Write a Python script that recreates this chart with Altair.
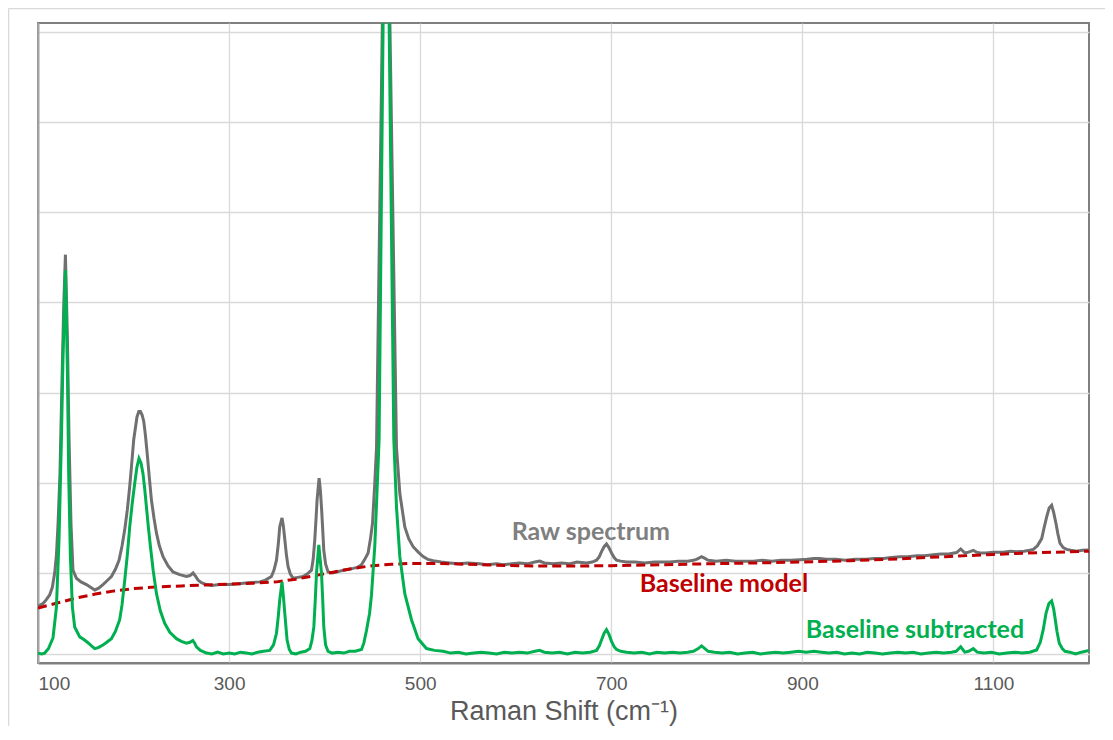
import altair as alt
import pandas as pd

# ---------------- data ----------------
# Raw spectrum (grey)
raw_x = [100, 105.2, 108.5, 112.2, 115, 117.5, 119.3, 121, 123, 124.5, 126.9, 128.7, 130.8, 132.5, 134.5,
         136.6, 140.2, 145, 150.7, 155, 159.4, 163.5, 168, 172, 176.8, 181, 184.8, 188, 190.8, 193.5, 196,
         198, 200.2, 203.6, 205.5, 207.2, 209, 210.7, 212.5, 214.2, 216.5, 218.7, 221.5, 224, 227, 230.9,
         236, 241.3, 248.3, 255.4, 259, 262.3, 265, 267.5, 271, 276.3, 282, 290, 300.7, 310, 320, 332.1,
         338, 344.3, 347, 349.6, 351.5, 353, 355.4, 356.8, 358.3, 360, 361.7, 364, 367, 372, 377.4, 382,
         386.2, 388, 389.7, 391, 392.1, 394.2, 395.5, 396.7, 398, 399.1, 401, 403.6, 408, 412.4, 420,
         429.8, 434, 438.6, 442, 445.5, 448, 450.1, 452.5, 454.3, 460.4, 464.3, 468.3, 475.2, 478.7,
         483.9, 488, 492.6, 498, 503.1, 508, 513.5, 522, 531, 540, 550, 562, 570, 580, 587, 596, 604, 612,
         620, 625, 630, 639, 648, 656, 664, 674, 680, 684.6, 687.5, 689.8, 692.5, 695, 697.5, 700.3, 703,
         705.5, 710, 716, 725, 735, 745, 753, 761, 770, 780, 786, 789.3, 794.5, 798, 801.4, 810, 820, 830,
         840, 848.5, 858, 868, 878, 888, 897.4, 905, 912, 918, 925, 935, 945, 955, 967, 975, 985, 993,
         1002, 1010, 1020, 1028, 1037, 1045, 1053, 1061.5, 1065.7, 1070.2, 1074, 1078.9, 1082, 1086, 1092,
         1100, 1110, 1118, 1124.3, 1132, 1138, 1141.7, 1146, 1150.5, 1153, 1155.7, 1158.3, 1160.9, 1163,
         1165.4, 1167.5, 1169.6, 1173, 1176.6, 1181, 1187, 1193, 1199.2]
raw_y = [0.53, 0.56, 0.60, 0.655, 0.74, 0.90, 1.10, 1.45, 2.0, 2.74, 3.85, 4.43, 3.49, 2.38, 1.45,
         0.93, 0.84, 0.80, 0.77, 0.74, 0.71, 0.73, 0.77, 0.81, 0.86, 0.94, 1.04, 1.20, 1.38, 1.60, 1.86,
         2.10, 2.38, 2.63, 2.69, 2.69, 2.65, 2.58, 2.42, 2.23, 1.96, 1.71, 1.50, 1.34, 1.20, 1.08,
         0.98, 0.91, 0.88, 0.86, 0.87, 0.90, 0.86, 0.82, 0.79, 0.77, 0.76, 0.77, 0.77, 0.78, 0.79, 0.80,
         0.82, 0.86, 0.93, 1.04, 1.22, 1.41, 1.51, 1.42, 1.27, 1.10, 0.97, 0.89, 0.84, 0.85, 0.86, 0.89,
         0.93, 1.05, 1.27, 1.50, 1.71, 1.95, 1.82, 1.63, 1.38, 1.15, 1.00, 0.91, 0.90, 0.91, 0.93,
         0.95, 0.96, 0.99, 1.05, 1.12, 1.28, 1.45, 1.90, 2.29, 7.0, 10.5, 7.0, 2.29, 1.78,
         1.41, 1.28, 1.19, 1.13, 1.08, 1.05, 1.035, 1.02, 1.01, 1.00, 1.01, 1.00, 0.99, 1.00, 0.99, 1.00, 1.01, 1.00,
         1.02, 1.03, 1.01, 1.00, 1.01, 1.00, 1.02, 1.01, 1.02, 1.04, 1.08, 1.135, 1.19, 1.22, 1.18, 1.12, 1.07,
         1.04, 1.03, 1.02, 1.02, 1.01, 1.02, 1.02, 1.02, 1.03, 1.03, 1.04, 1.05, 1.08, 1.06, 1.04, 1.03, 1.04, 1.03,
         1.03, 1.03, 1.04, 1.03, 1.04, 1.04, 1.045, 1.05, 1.06, 1.06, 1.05, 1.05, 1.04, 1.05, 1.05, 1.06, 1.06, 1.07,
         1.08, 1.08, 1.09, 1.09, 1.10, 1.11, 1.11, 1.125, 1.165, 1.12, 1.13, 1.15, 1.13, 1.12, 1.12,
         1.13, 1.13, 1.14, 1.135, 1.14, 1.15, 1.16, 1.20, 1.28, 1.40, 1.52, 1.62, 1.65, 1.57,
         1.45, 1.33, 1.23, 1.18, 1.16, 1.15, 1.14, 1.15, 1.155]

# Baseline model (red dashed)
base_x = [100, 120, 140, 160, 180, 200, 225, 250, 275, 300, 325, 350, 370, 390, 410, 430, 450, 470, 490,
          520, 550, 580, 620, 660, 700, 750, 800, 850, 900, 950, 1000, 1050, 1100, 1150, 1200]
base_y = [0.51, 0.565, 0.62, 0.665, 0.70, 0.725, 0.745, 0.755, 0.765, 0.775, 0.785, 0.80, 0.83, 0.87, 0.91,
          0.95, 0.98, 0.995, 1.005, 1.005, 0.995, 0.985, 0.975, 0.975, 0.98, 0.99, 1.00, 1.01, 1.02, 1.035,
          1.055, 1.08, 1.105, 1.125, 1.14]

# Baseline subtracted (green)
sub_x = [100, 104, 107, 111, 115.7, 119.3, 122, 124.5, 126.2, 128.7, 130.8, 132.1, 133.9, 136, 138.4,
         143.7, 148, 152.3, 156, 159.4, 163, 168, 172, 176.8, 181, 185.5, 188, 190.8, 193.5, 196, 198.5,
         201.2, 203.5, 205.7, 207.8, 209.9, 211.7, 213.5, 215.6, 217.7, 220.5, 224, 228, 232.6, 238,
         244.9, 250, 255.4, 259, 262, 264, 265.8, 270, 276.3, 282, 288, 294, 300, 306, 312, 318, 324, 330,
         336, 342.6, 346.5, 349.6, 351.5, 353, 355.4, 357, 358.3, 360.7, 363, 365.3, 370, 375, 380, 384.5,
         386.7, 388.7, 390.2, 391.5, 393.9, 395.3, 396.7, 398, 399.1, 401, 403.6, 408, 414, 420, 426, 432,
         438.6, 441, 443.8, 447, 449, 452.5, 454.9, 457, 461.2, 464.3, 467.5, 472.4, 475.2, 478.7, 483.9,
         490.9, 497.8, 506.6, 515, 524, 532, 540, 548, 556, 564, 572, 580, 588, 596, 604, 612, 620, 625,
         630, 638, 646, 654, 662, 670, 678, 684.6, 687.5, 689.8, 692.5, 695, 697.5, 700.3, 703, 705.5, 710,
         716, 724, 732, 740, 748, 756, 764, 772, 780, 786, 791, 794.5, 798, 801.4, 808, 816, 824, 832, 840,
         848, 856, 864, 872, 880, 888, 896, 904, 912, 920, 928, 936, 944, 952, 960, 968, 976, 984, 992,
         1000, 1008, 1016, 1024, 1032, 1040, 1048, 1056, 1061, 1065.7, 1070, 1074, 1078.9, 1083, 1090,
         1098, 1106, 1114, 1122, 1130, 1138, 1145.2, 1149, 1152.1, 1155, 1158, 1160.9, 1163, 1164.3,
         1166.5, 1168.9, 1172, 1174.9, 1180, 1186, 1192, 1200]
sub_y = [0.01, 0.0, 0.01, 0.06, 0.18, 0.52, 1.27, 2.38, 3.30, 4.26, 3.12, 2.0, 1.08, 0.52, 0.30,
         0.19, 0.16, 0.125, 0.09, 0.06, 0.07, 0.10, 0.13, 0.17, 0.25, 0.38, 0.55, 0.82, 1.10, 1.41, 1.66,
         1.89, 2.07, 2.17, 2.12, 2.0, 1.83, 1.63, 1.40, 1.19, 0.93, 0.67, 0.48, 0.34, 0.24,
         0.17, 0.14, 0.12, 0.13, 0.15, 0.12, 0.08, 0.04, 0.01, 0.0, 0.02, 0.0, 0.01, 0.0, 0.02, 0.01, 0.0, 0.02,
         0.03, 0.04, 0.10, 0.23, 0.42, 0.60, 0.80, 0.62, 0.45, 0.155, 0.05, 0.01, 0.0, 0.02, 0.03, 0.06,
         0.15, 0.30, 0.60, 0.90, 1.21, 1.05, 0.90, 0.60, 0.30, 0.10, 0.03, 0.01, 0.02, 0.01, 0.03, 0.03,
         0.05, 0.12, 0.26, 0.45, 0.65, 1.20, 1.82, 2.38, 7.0, 10.5, 7.0, 2.38, 1.63, 1.08, 0.67,
         0.38, 0.17, 0.06, 0.04, 0.03, 0.01, 0.02, 0.0, 0.01, 0.02, 0.01, 0.0, 0.02, 0.01, 0.02, 0.01, 0.03, 0.04,
         0.02, 0.01, 0.02, 0.0, 0.02, 0.01, 0.02, 0.04, 0.09, 0.155, 0.23, 0.27, 0.22, 0.14, 0.08, 0.05, 0.03,
         0.02, 0.01, 0.02, 0.0, 0.02, 0.01, 0.02, 0.01, 0.02, 0.03, 0.06, 0.09, 0.06, 0.03, 0.02, 0.01, 0.02, 0.0, 0.01,
         0.02, 0.0, 0.01, 0.02, 0.01, 0.02, 0.03, 0.02, 0.03, 0.02, 0.01, 0.02, 0.0, 0.01, 0.0, 0.02, 0.01, 0.0, 0.01,
         0.02, 0.01, 0.02, 0.0, 0.01, 0.02, 0.01, 0.02, 0.03, 0.08, 0.02, 0.03, 0.06, 0.02, 0.01,
         0.02, 0.0, 0.01, 0.02, 0.01, 0.02, 0.045, 0.13, 0.27, 0.45, 0.56, 0.59, 0.50, 0.41,
         0.25, 0.12, 0.06, 0.03, 0.02, 0.0, 0.02, 0.04]

# Annotations
ann_text = ["Raw spectrum", "Baseline model", "Baseline subtracted"]
ann_x = [678.6, 817.9, 1017.8]
ann_y = [1.265, 0.69, 0.174]
ann_color = ["#7f7f7f", "#c00000", "#00b050"]

x_ticks = [100, 300, 500, 700, 900, 1100]
y_grid = [0, 0.9, 1.9, 2.9, 3.9, 4.9, 5.9, 6.9]

W, H = 1051, 640
PAD = {"left": 30, "top": 15, "right": 16, "bottom": 63}

raw_df = pd.DataFrame({"x": raw_x, "y": raw_y})
base_df = pd.DataFrame({"x": base_x, "y": base_y})
sub_df = pd.DataFrame({"x": sub_x, "y": sub_y})
ann_df = pd.DataFrame({"x": ann_x, "y": ann_y, "text": ann_text, "color": ann_color})

xscale = alt.Scale(domain=[100, 1200], nice=False, zero=False)
yscale = alt.Scale(domain=[-0.1, 7.0], nice=False, zero=False)

xaxis = alt.Axis(values=x_ticks, format="d", grid=True, gridColor="#d9d9d9", gridWidth=1.3, ticks=False,
                 domain=True, domainColor="#7f7f7f", domainWidth=2,
                 labelFont="Liberation Sans", labelFontSize=19, labelColor="#595959", labelPadding=11,
                 title="Raman Shift (cm\u207b\u00b9)", titleFont="Liberation Sans", titleFontSize=27,
                 titleFontWeight="normal", titleColor="#595959", titlePadding=5)
yaxis = alt.Axis(values=y_grid, grid=True, gridColor="#d9d9d9", gridWidth=1.3, ticks=False,
                 labels=False, domain=True, domainColor="#a6a6a6", domainWidth=2, title=None)

raw = alt.Chart(raw_df).mark_line(color="#707070", strokeWidth=3, clip=True).encode(
    x=alt.X("x:Q", scale=xscale, axis=xaxis),
    y=alt.Y("y:Q", scale=yscale, axis=yaxis),
)
base = alt.Chart(base_df).mark_line(color="#c00000", strokeWidth=3, strokeDash=[9, 5], clip=True).encode(
    x=alt.X("x:Q", scale=xscale),
    y=alt.Y("y:Q", scale=yscale),
)
sub = alt.Chart(sub_df).mark_line(color="#00b050", strokeWidth=3, clip=True).encode(
    x=alt.X("x:Q", scale=xscale),
    y=alt.Y("y:Q", scale=yscale),
)
ann = alt.Chart(ann_df).mark_text(font="Lato", fontSize=25, fontWeight="bold", align="center",
                                  baseline="alphabetic").encode(
    x=alt.X("x:Q", scale=xscale),
    y=alt.Y("y:Q", scale=yscale),
    text="text:N",
    color=alt.Color("color:N", scale=None),
)

one = pd.DataFrame({"a": [0]})
frame_top = alt.Chart(one).mark_rule(color="#d9d9d9", strokeWidth=1.5).encode(
    x=alt.value(-29.5), x2=alt.value(W + PAD["right"]), y=alt.value(-14.5))
frame_left = alt.Chart(one).mark_rule(color="#d9d9d9", strokeWidth=1.5).encode(
    x=alt.value(-29.5), y=alt.value(-14.5), y2=alt.value(H + PAD["bottom"]))

chart = alt.layer(frame_top, frame_left, raw, base, sub, ann).properties(
    width=W, height=H,
    autosize=alt.AutoSizeParams(type="none"),
    padding=PAD,
).configure_view(stroke="#7f7f7f", strokeWidth=2)

chart.save("out.html", embed_options={"renderer": "svg", "actions": False})
